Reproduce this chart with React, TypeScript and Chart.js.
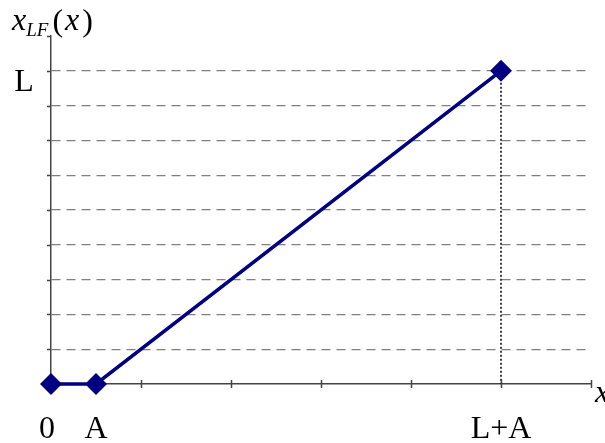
import React, { useEffect, useRef } from "react";
import { Chart, registerables } from "chart.js";

Chart.register(...registerables);

// Series: x_LF(x)
const seriesX = [0, 0.5, 5];
const seriesY = [0, 0, 9];
// Dotted guide from the top point down to the axis
const guideX = [5, 5];
const guideY = [9, 0];
// Axis tick values
const xTickValues = [1, 2, 3, 4, 5, 6];
const yTickValues = [1, 2, 3, 4, 5, 6, 7, 8, 9, 10];
// Axis labels
const xLabelValues = [0, 0.5, 5];
const xLabelTexts = ["0", "A", "L+A"];
const yLabelValues = [9];
const yLabelTexts = ["L"];

const FONT = "'Liberation Serif', 'Times New Roman', serif";

export default function App() {
  const ref = useRef<HTMLCanvasElement | null>(null);

  useEffect(() => {
    if (!ref.current) return;
    const axisColor = "#444";
    const decor = {
      id: "decor",
      afterDatasetsDraw(chart: any) {
        const ctx = chart.ctx;
        const xs = chart.scales.x;
        const ys = chart.scales.y;
        const { left, bottom } = chart.chartArea;
        ctx.save();
        ctx.strokeStyle = axisColor;
        ctx.lineWidth = 1.5;
        ctx.setLineDash([]);
        for (const v of xTickValues) {
          const px = Math.round(xs.getPixelForValue(v)) + 0.5;
          ctx.beginPath();
          ctx.moveTo(px, bottom - 4);
          ctx.lineTo(px, bottom + 4);
          ctx.stroke();
        }
        for (const v of yTickValues) {
          const py = Math.round(ys.getPixelForValue(v)) + 0.5;
          ctx.beginPath();
          ctx.moveTo(left - 4, py);
          ctx.lineTo(left, py);
          ctx.stroke();
        }
        ctx.restore();
      },
      afterDraw(chart: any) {
        const ctx = chart.ctx;
        const xs = chart.scales.x;
        const ys = chart.scales.y;
        ctx.save();
        ctx.fillStyle = "#000";
        ctx.textBaseline = "alphabetic";
        ctx.font = `32px ${FONT}`;
        ctx.textAlign = "center";
        xLabelValues.forEach((v, i) => {
          ctx.fillText(xLabelTexts[i], xs.getPixelForValue(v) - (v === 0 ? 4 : 0), 438);
        });
        yLabelValues.forEach((v, i) => {
          ctx.fillText(yLabelTexts[i], 24, ys.getPixelForValue(v) + 20);
        });
        // title x_LF(x)
        ctx.textAlign = "left";
        let x = 12;
        ctx.font = `italic 32px ${FONT}`;
        ctx.fillText("x", x, 30);
        x += ctx.measureText("x").width;
        ctx.font = `italic 19px ${FONT}`;
        ctx.fillText("LF", x, 36);
        x += ctx.measureText("LF").width + 4;
        ctx.font = `32px ${FONT}`;
        ctx.fillText("(", x, 31);
        x += ctx.measureText("(").width + 2;
        ctx.font = `italic 32px ${FONT}`;
        ctx.fillText("x", x, 30);
        x += ctx.measureText("x").width + 3;
        ctx.font = `32px ${FONT}`;
        ctx.fillText(")", x, 31);
        // axis label x at right edge
        ctx.font = `italic 32px ${FONT}`;
        ctx.fillText("x", 595, 402);
        ctx.restore();
      },
    };

    const chart = new Chart(ref.current, {
      type: "scatter",
      data: {
        datasets: [
          {
            data: seriesX.map((x, i) => ({ x, y: seriesY[i] })),
            showLine: true,
            borderColor: "#000080",
            backgroundColor: "#000080",
            borderWidth: 3.5,
            pointStyle: "rectRot",
            pointRadius: 11,
            pointBorderWidth: 0,
            pointBackgroundColor: "#000080",
            clip: false,
            order: 0,
          } as any,
          {
            data: guideX.map((x, i) => ({ x, y: guideY[i] })),
            showLine: true,
            borderColor: "#000",
            borderWidth: 1.5,
            borderDash: [2, 2],
            pointRadius: 0,
            clip: false,
            order: 1,
          } as any,
        ],
      },
      options: {
        animation: false,
        responsive: false,
        layout: { padding: { left: 51, top: 36, right: 14, bottom: 59 } },
        plugins: { legend: { display: false }, tooltip: { enabled: false } },
        scales: {
          x: {
            type: "linear",
            min: 0,
            max: 6,
            ticks: { display: false, stepSize: 1 },
            grid: { display: false, drawTicks: false },
            border: { display: true, color: axisColor, width: 1.5 },
          },
          y: {
            type: "linear",
            min: 0,
            max: 10,
            ticks: { display: false, stepSize: 1 },
            grid: {
              drawTicks: false,
              color: (c: any) =>
                c.tick && (c.tick.value === 0 || c.tick.value === 10) ? "rgba(0,0,0,0)" : "#808080",
              lineWidth: 1.2,
            },
            border: { display: true, color: axisColor, width: 1.5, dash: [9, 6] },
          },
        },
      } as any,
      plugins: [decor],
    });
    return () => chart.destroy();
  }, []);

  return (
    <div style={{ position: "fixed", left: 0, top: 0, width: 605, height: 443, background: "#fff" }}>
      <canvas ref={ref} width={605} height={443} style={{ display: "block" }} />
    </div>
  );
}
